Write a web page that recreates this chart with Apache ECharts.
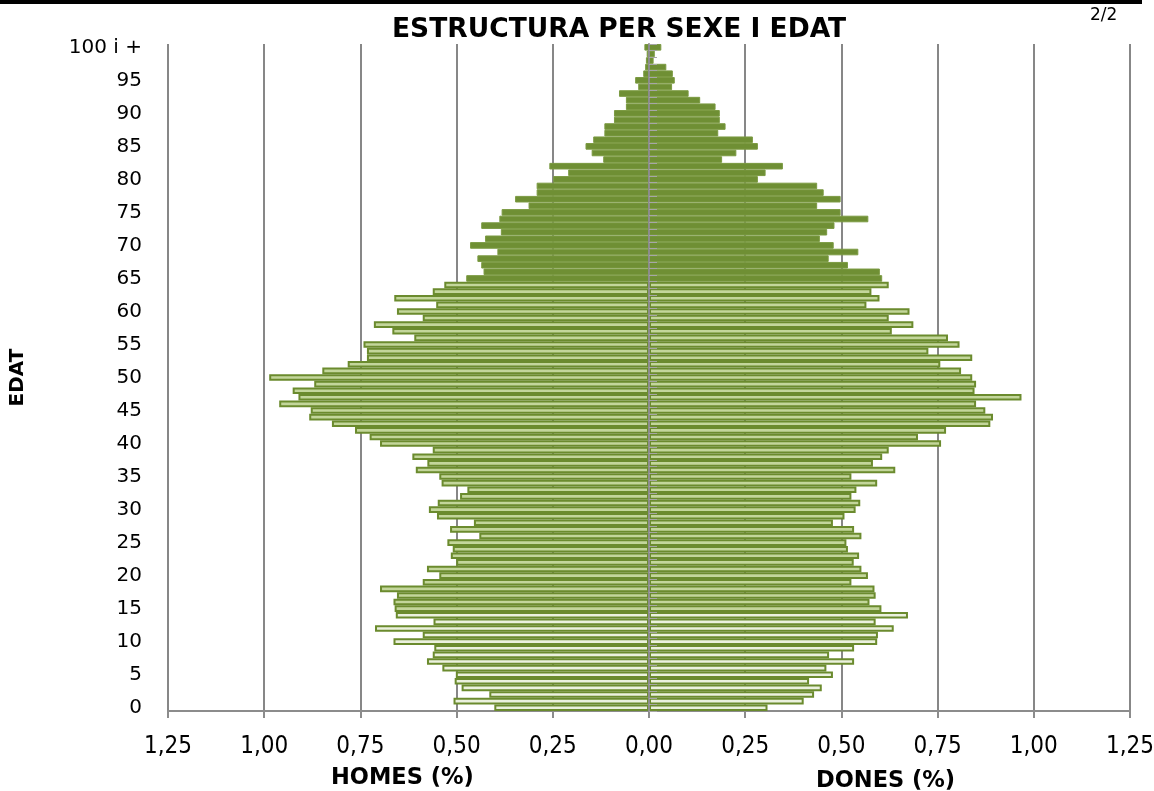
<!DOCTYPE html>
<html>
<head>
<meta charset="utf-8">
<style>
  html, body { margin: 0; padding: 0; background: #fff; }
</style>
</head>
<body>
<div id="main" style="width: 1154px; height: 791px"></div>
<script src="https://cdn.jsdelivr.net/npm/echarts@6/dist/echarts.min.js"></script>
<script>
  // percentages by single year of age, index 0 = age 0 ... index 100 = "100 i +"
  const homes = [
    0.402, 0.508, 0.415, 0.487, 0.505, 0.502, 0.537, 0.577, 0.562, 0.558,
    0.664, 0.588, 0.712, 0.560, 0.658, 0.661, 0.664, 0.655, 0.699, 0.588,
    0.545, 0.577, 0.501, 0.515, 0.510, 0.524, 0.441, 0.517, 0.455, 0.551,
    0.572, 0.549, 0.491, 0.472, 0.539, 0.545, 0.606, 0.576, 0.615, 0.562,
    0.699, 0.726, 0.764, 0.824, 0.883, 0.879, 0.961, 0.911, 0.926, 0.870,
    0.987, 0.849, 0.783, 0.733, 0.733, 0.742, 0.610, 0.667, 0.715, 0.588,
    0.655, 0.553, 0.662, 0.562, 0.532, 0.475, 0.430, 0.436, 0.446, 0.394,
    0.465, 0.426, 0.385, 0.436, 0.389, 0.383, 0.313, 0.348, 0.292, 0.292,
    0.249, 0.210, 0.259, 0.119, 0.149, 0.165, 0.145, 0.116, 0.116, 0.091,
    0.091, 0.060, 0.060, 0.078, 0.028, 0.036, 0.015, 0.010, 0.008, 0.006,
    0.012,
  ];
  const dones = [
    0.308, 0.402, 0.429, 0.449, 0.416, 0.478, 0.461, 0.533, 0.468, 0.533,
    0.593, 0.595, 0.636, 0.589, 0.673, 0.604, 0.573, 0.589, 0.586, 0.526,
    0.569, 0.552, 0.532, 0.546, 0.517, 0.513, 0.552, 0.533, 0.478, 0.508,
    0.537, 0.549, 0.526, 0.539, 0.593, 0.526, 0.640, 0.582, 0.606, 0.623,
    0.759, 0.699, 0.772, 0.887, 0.894, 0.874, 0.850, 0.968, 0.846, 0.850,
    0.840, 0.811, 0.757, 0.840, 0.726, 0.807, 0.777, 0.631, 0.687, 0.623,
    0.677, 0.565, 0.599, 0.578, 0.623, 0.606, 0.600, 0.517, 0.467, 0.544,
    0.480, 0.444, 0.463, 0.482, 0.570, 0.498, 0.437, 0.498, 0.454, 0.437,
    0.283, 0.303, 0.348, 0.190, 0.227, 0.283, 0.270, 0.180, 0.199, 0.184,
    0.184, 0.173, 0.133, 0.103, 0.060, 0.067, 0.062, 0.045, 0.012, 0.015,
    0.032,
  ];
  const edats = homes.map((_, i) => (i === 100 ? '100 i +' : String(i)));

  const sans = "'DejaVu Sans', sans-serif";
  const narrow = "'DejaVu Sans Condensed', Roboto, sans-serif";

  function fillFor(age) {
    if (age < 15) return '#ebf1de';
    if (age < 65) return '#c3d69b';
    return '#6f8f34';
  }

  function toItems(values, sign) {
    return values.map((v, i) => ({
      value: sign * v,
      itemStyle: {
        color: fillFor(i),
        borderColor: i < 65 ? '#6b8b2e' : '#7b9a42',
        borderWidth: i < 65 ? 2 : 1,
      },
    }));
  }

  var chartDom = document.getElementById('main');
  var myChart = echarts.init(chartDom);
  var option;

  option = {
    backgroundColor: '#fff',
    animation: false,
    title: {
      text: 'ESTRUCTURA PER SEXE I EDAT',
      left: 387,
      top: 12,
      textStyle: {
        fontFamily: sans,
        fontWeight: 'bold',
        fontSize: 26.5,
        color: '#000',
      },
    },
    graphic: [
      { type: 'rect', shape: { x: 0, y: 0, width: 1142, height: 4 }, style: { fill: '#000' } },
      {
        type: 'text', left: 1090, top: 7,
        style: { text: '2/2', font: '17px ' + sans, fill: '#000' },
      },
      {
        type: 'text', left: 331, top: 767,
        style: { text: 'HOMES (%)', font: 'bold 22.5px ' + sans, fill: '#000' },
      },
      {
        type: 'text', left: 816, top: 770,
        style: { text: 'DONES (%)', font: 'bold 22.5px ' + sans, fill: '#000' },
      },
    ],
    grid: { left: 168, right: 24, top: 44, bottom: 80, outerBoundsMode: 'none' },
    xAxis: {
      type: 'value',
      min: -1.25,
      max: 1.25,
      interval: 0.25,
      axisLine: { show: true, onZero: false, lineStyle: { color: '#8c8c8c', width: 2 } },
      axisTick: { show: true, length: 7, lineStyle: { color: '#8c8c8c', width: 2 } },
      axisLabel: {
        margin: 24,
        fontSize: 24,
        fontFamily: narrow,
        color: '#000',
        showMinLabel: true,
        showMaxLabel: true,
        formatter: (v) => Math.abs(v).toFixed(2).replace('.', ','),
      },
      splitLine: { show: true, lineStyle: { color: '#878787', width: 2 } },
    },
    yAxis: [
      {
        type: 'category',
        data: edats,
        name: 'EDAT',
        nameLocation: 'middle',
        nameGap: 140,
        nameRotate: 90,
        nameTextStyle: { fontFamily: sans, fontWeight: 'bold', fontSize: 20, color: '#000' },
        axisLine: { show: false, onZero: false },
        axisTick: { show: false },
        axisLabel: {
          interval: 4,
          margin: 26,
          fontSize: 20,
          fontFamily: sans,
          color: '#000',
          showMinLabel: true,
          showMaxLabel: true,
          hideOverlap: false,
        },
      },
      {
        type: 'category',
        data: edats,
        z: 10,
        axisLine: { show: true, onZero: true, lineStyle: { color: '#8c8c8c', width: 2 } },
        axisTick: { show: true, interval: 0, length: 8, lineStyle: { color: '#a6a6a6', width: 1 } },
        axisLabel: { show: false },
        splitLine: { show: false },
      },
    ],
    series: [
      {
        name: 'Homes',
        type: 'bar',
        stack: 'pob',
        barCategoryGap: '0%',
        data: toItems(homes, -1),
      },
      {
        name: 'Dones',
        type: 'bar',
        stack: 'pob',
        barCategoryGap: '0%',
        data: toItems(dones, 1),
      },
    ],
  };

  option && myChart.setOption(option);

  window.onresize = function () {
    myChart.resize();
  };
</script>
</body>
</html>
